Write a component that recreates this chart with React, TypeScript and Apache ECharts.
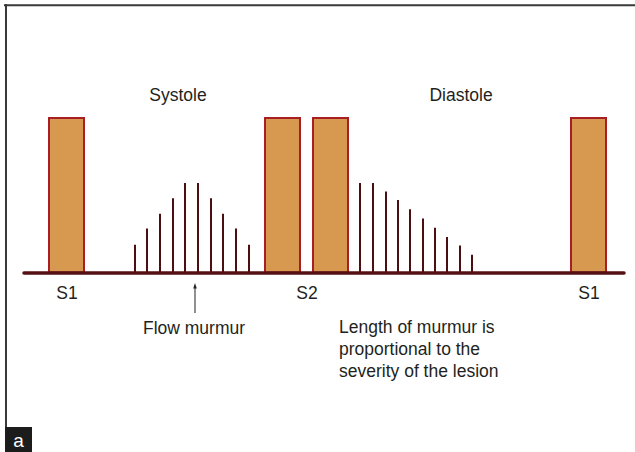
import React, { useEffect, useRef } from "react";
import * as echarts from "echarts";

// Heart sounds (time in ms along the cycle, amplitude in relative units)
const soundNames = ["S1", "A2", "P2", "S1"];
const soundOnset = [25, 241, 289, 547];
const soundOffset = [60, 276, 324, 582];
const soundAmplitude = [100, 100, 100, 100];

// Systolic flow murmur (crescendo-decrescendo)
const systolicTimes = [111, 123, 136, 149, 161, 174, 187, 199, 212, 225];
const systolicAmp = [18, 28.5, 38, 48, 58, 58, 48, 38, 28.5, 18];

// Diastolic murmur (decrescendo)
const diastolicTimes = [336, 349, 362, 374, 386, 399, 411, 423, 436, 448];
const diastolicAmp = [58, 58, 52.5, 47, 41, 35, 29, 23, 17.5, 11.5];

// Labels
const eventLabels = ["S1", "S2", "S1"];
const eventLabelTimes = [43, 283, 565];
const phaseLabels = ["Systole", "Diastole"];
const phaseTimes = [154, 437];
const phaseLevel = 115;
const flowNote = "Flow murmur";
const flowNoteTime = 170;
const lengthNote = "Length of murmur is\nproportional to the\nseverity of the lesion";
const lengthNoteTime = 315;

const FONT = "'Liberation Sans', Arial, sans-serif";
const TEXT = "#231f20";

export default function App() {
  const ref = useRef<HTMLDivElement>(null);
  useEffect(() => {
    document.body.style.margin = "0";
    if (!ref.current) return;
    const chart = echarts.init(ref.current, undefined, { renderer: "svg" });
    const option: any = {
      animation: false,
      backgroundColor: "#ffffff",
      grid: { left: 24, right: 11, top: 118, bottom: 179.5 },
      xAxis: {
        type: "value",
        min: 0,
        max: 600,
        z: 10,
        axisLine: { show: true, onZero: true, lineStyle: { color: "#561014", width: 3.5 } },
        axisTick: { show: false },
        axisLabel: { show: false },
        splitLine: { show: false },
      },
      yAxis: {
        type: "value",
        min: 0,
        max: 100,
        show: false,
        splitLine: { show: false },
      },
      graphic: [
        { type: "line", shape: { x1: 4, y1: 5.2, x2: 635, y2: 5.2 }, style: { stroke: "#3a3a3a", lineWidth: 2 } },
        { type: "line", shape: { x1: 6, y1: 4, x2: 6, y2: 428 }, style: { stroke: "#3a3a3a", lineWidth: 2 } },
        { type: "rect", shape: { x: 5, y: 427, width: 27, height: 25 }, style: { fill: "#1c1c1c" } },
        {
          type: "text",
          x: 18.5,
          y: 440,
          style: { text: "a", fill: "#ffffff", fontSize: 19, fontFamily: FONT, align: "center", verticalAlign: "middle" },
        },
      ],
      series: [
        {
          type: "custom",
          name: "sounds",
          z: 2,
          data: soundOnset.map((s, i) => ({ name: soundNames[i], value: [s, soundOffset[i], soundAmplitude[i]] })),
          renderItem: (params: any, api: any) => {
            const a = api.coord([api.value(0), api.value(2)]);
            const b = api.coord([api.value(1), 0]);
            return {
              type: "rect",
              shape: { x: a[0], y: a[1], width: b[0] - a[0], height: b[1] - a[1] },
              style: { fill: "#d6994f", stroke: "#a81e24", lineWidth: 2 },
            };
          },
        },
        {
          type: "custom",
          name: "murmur",
          z: 2,
          data: [
            ...systolicTimes.map((t, i) => [t, systolicAmp[i]]),
            ...diastolicTimes.map((t, i) => [t, diastolicAmp[i]]),
          ],
          renderItem: (params: any, api: any) => {
            const a = api.coord([api.value(0), 0]);
            const b = api.coord([api.value(0), api.value(1)]);
            return {
              type: "line",
              shape: { x1: a[0], y1: a[1], x2: b[0], y2: b[1] },
              style: { stroke: "#4b0f12", lineWidth: 2 },
            };
          },
        },
        {
          type: "custom",
          name: "eventLabels",
          z: 3,
          data: eventLabelTimes.map((t) => [t, 0]),
          renderItem: (params: any, api: any) => {
            const p = api.coord([api.value(0), 0]);
            return {
              type: "text",
              x: p[0],
              y: p[1] + 20,
              style: {
                text: eventLabels[params.dataIndex],
                fill: TEXT,
                fontSize: 17.5,
                fontFamily: FONT,
                align: "center",
                verticalAlign: "middle",
              },
            };
          },
        },
        {
          type: "custom",
          name: "phaseLabels",
          z: 3,
          data: phaseTimes.map((t) => [t, phaseLevel]),
          renderItem: (params: any, api: any) => {
            const p = api.coord([api.value(0), api.value(1)]);
            return {
              type: "text",
              x: p[0],
              y: p[1],
              style: {
                text: phaseLabels[params.dataIndex],
                fill: TEXT,
                fontSize: 17.5,
                fontFamily: FONT,
                align: "center",
                verticalAlign: "middle",
              },
            };
          },
        },
        {
          type: "custom",
          name: "notes",
          z: 3,
          data: [[flowNoteTime, 0], [lengthNoteTime, 0]],
          renderItem: (params: any, api: any) => {
            const p = api.coord([api.value(0), 0]);
            if (params.dataIndex === 0) {
              return {
                type: "group",
                children: [
                  { type: "line", shape: { x1: p[0] + 1, y1: p[1] + 14, x2: p[0] + 1, y2: p[1] + 40.5 }, style: { stroke: "#222", lineWidth: 1 } },
                  {
                    type: "polygon",
                    shape: { points: [[p[0] + 1, p[1] + 10.5], [p[0] - 0.8, p[1] + 16], [p[0] + 2.8, p[1] + 16]] },
                    style: { fill: "#222" },
                  },
                  {
                    type: "text",
                    x: p[0],
                    y: p[1] + 55,
                    style: { text: flowNote, fill: TEXT, fontSize: 17.5, fontFamily: FONT, align: "center", verticalAlign: "middle" },
                  },
                ],
              };
            }
            return {
              type: "text",
              x: p[0],
              y: p[1] + 43.3,
              style: {
                text: lengthNote,
                fill: TEXT,
                fontSize: 17.5,
                lineHeight: 22,
                fontFamily: FONT,
                align: "left",
                verticalAlign: "top",
              },
            };
          },
        },
      ],
    };
    chart.setOption(option);
    return () => chart.dispose();
  }, []);
  return <div ref={ref} style={{ width: 635, height: 452 }} />;
}
